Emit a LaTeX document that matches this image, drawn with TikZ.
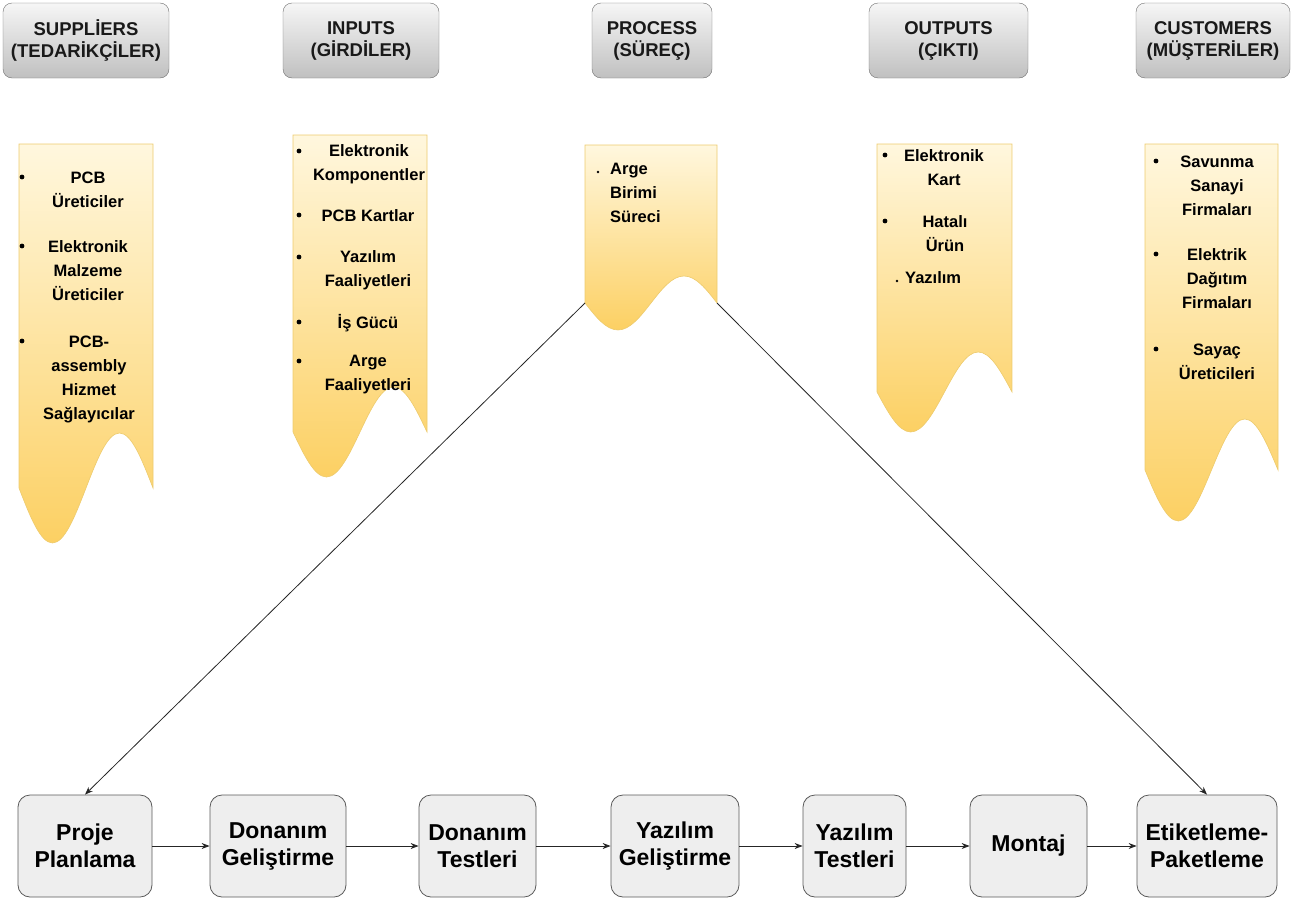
\documentclass[tikz,border=0pt]{standalone}
\usepackage{fontspec}
\setmainfont{Liberation Sans}
\usetikzlibrary{arrows.meta,positioning}

\definecolor{hdtop}{HTML}{F6F6F6}
\definecolor{hdbot}{HTML}{C0C0C0}
\definecolor{hdline}{HTML}{6E6E6E}
\definecolor{bntop}{HTML}{FFF7DE}
\definecolor{bnbot}{HTML}{FCD063}
\definecolor{bnline}{HTML}{EDCB6E}
\definecolor{boxfill}{HTML}{EEEEEE}
\definecolor{boxline}{HTML}{5A5A5A}

\tikzset{
  header/.style={draw=hdline, rounded corners=9pt, top color=hdtop, bottom color=hdbot,
    minimum height=75pt, inner sep=0pt, align=center, text=black!90,
    font=\fontsize{18.5}{22}\selectfont\bfseries},
  banner/.style={draw=bnline, line width=0.6pt, top color=bntop, bottom color=bnbot},
  item/.style={inner sep=0pt, align=center, anchor=base,
    font=\fontsize{16.5}{24.3}\selectfont\bfseries},
  stepbox/.style={draw=boxline, fill=boxfill, rounded corners=12pt, line width=0.8pt,
    minimum height=102pt, inner sep=0pt, align=center,
    font=\fontsize{23}{27}\selectfont\bfseries},
  flow/.style={draw=black!85, line width=0.8pt, -{Stealth[length=8pt,width=6pt]}}
}

\begin{document}
\begin{tikzpicture}[x=1pt,y=-1pt]
\useasboundingbox (0,0) rectangle (1293,902);

% column headers
\foreach \n/\x/\w/\t in {sup/86/166/{SUPPLİERS\\(TEDARİKÇİLER)},
    inp/361/156/{INPUTS\\(GİRDİLER)}, pro/652/120/{PROCESS\\(SÜREÇ)},
    out/948.5/159/{OUTPUTS\\(ÇIKTI)}, cus/1213/154/{CUSTOMERS\\(MÜŞTERİLER)}}
  \node[header, minimum width=\w pt] (\n) at (\x,40.5) {\t};

% wavy banners: left/right/top/mid of wave/amplitude
\foreach \l/\r/\t/\m/\a in {19/153/144/488/55, 293/427/135/432/45,
    585/717/145/303/27, 877/1012/144/392/40, 1145/1278/144/470/51}
  \path[banner] (\l,\t) -- (\r,\t) -- (\r,\m)
    sin ({\r-(\r-\l)/4},{\m-\a}) cos ({(\l+\r)/2},\m)
    sin ({\l+(\r-\l)/4},{\m+\a}) cos (\l,\m) -- cycle;

\coordinate (pl) at (585,303);
\coordinate (pr) at (717,303);

% banner texts (placed at baseline of last line)
\node[item] (s1) at (88,207.3) {PCB\\Üreticiler};
\node[item] (s2) at (88,300.6) {Elektronik\\Malzeme\\Üreticiler};
\node[item] (s3) at (89,419.9) {PCB-\\assembly\\Hizmet\\Sağlayıcılar};

\node[item] (i1) at (369,180.5) {Elektronik\\Komponentler};
\node[item] (i2) at (368,221) {PCB Kartlar};
\node[item] (i3) at (368,286.5) {Yazılım\\Faaliyetleri};
\node[item] (i4) at (368,328) {İş Gücü};
\node[item] (i5) at (368,390.5) {Arge\\Faaliyetleri};

\node[item, anchor=base west, align=left] (p1) at (610,222.6) {Arge\\Birimi\\Süreci};

\node[item] (o1) at (944,185.3) {Elektronik\\Kart};
\node[item] (o2) at (945,251.3) {Hatalı\\Ürün};
\node[item, anchor=base west] (o3) at (905,283) {Yazılım};

\node[item] (c1) at (1217,215.6) {Savunma\\Sanayi\\Firmaları};
\node[item] (c2) at (1217,308.6) {Elektrik\\Dağıtım\\Firmaları};
\node[item] (c3) at (1217,379.3) {Sayaç\\Üreticileri};

\foreach \p in {(22,177),(22,246),(22,341),(299,151),(299,215),(299,257),(299,322),
    (299,361),(885,155),(885,221),(1156,161),(1156,254),(1156,349)}
  \fill \p circle[radius=2.4pt];
\foreach \p in {(598,172),(897,281)}
  \fill \p circle[radius=1.4pt];

% process steps
\node[stepbox, minimum width=134pt] (proje) at (85,846) {Proje\\Planlama};
\node[stepbox, minimum width=136pt] (dg) at (278,846) {Donanım\\Geliştirme};
\node[stepbox, minimum width=117pt] (dt) at (477.5,846) {Donanım\\Testleri};
\node[stepbox, minimum width=128pt] (yg) at (675,846) {Yazılım\\Geliştirme};
\node[stepbox, minimum width=103pt] (yt) at (854.5,846) {Yazılım\\Testleri};
\node[stepbox, minimum width=117pt] (mon) at (1028.5,846) {Montaj};
\node[stepbox, minimum width=140pt] (etk) at (1207,846) {Etiketleme-\\Paketleme};

\foreach \a/\b in {proje/dg, dg/dt, dt/yg, yg/yt, yt/mon, mon/etk}
  \draw[flow] (\a) -- (\b);

\draw[flow] (pl) -- (proje.north);
\draw[flow] (pr) -- (etk.north);
\end{tikzpicture}
\end{document}
